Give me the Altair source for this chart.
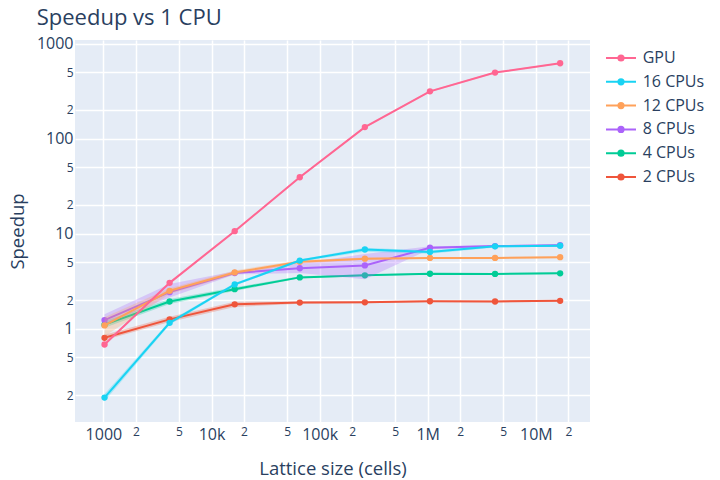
import altair as alt
import pandas as pd

# ---------------- data ----------------
sizes = [1024, 4096, 16384, 65536, 262144, 1048576, 4194304, 16777216]

gpu = [0.68, 3.03, 10.6, 39.2, 132, 314, 495, 620]
gpu_lo = [0.66, 2.95, 10.3, 38.3, 129, 308, 486, 609]
gpu_hi = [0.70, 3.10, 10.9, 40.1, 135, 320, 504, 631]

cpu16 = [0.188, 1.15, 2.92, 5.2, 6.8, 6.4, 7.35, 7.45]
cpu16_lo = [0.172, 1.10, 2.82, 5.05, 6.45, 6.15, 7.15, 7.25]
cpu16_hi = [0.205, 1.20, 3.02, 5.35, 7.10, 6.65, 7.55, 7.65]

cpu12 = [1.08, 2.5, 3.9, 5.05, 5.45, 5.55, 5.55, 5.65]
cpu12_lo = [0.83, 2.32, 3.70, 4.85, 5.30, 5.45, 5.45, 5.55]
cpu12_hi = [1.32, 2.66, 4.10, 5.25, 5.60, 5.65, 5.65, 5.75]

cpu8 = [1.23, 2.42, 3.85, 4.32, 4.62, 7.1, 7.38, 7.55]
cpu8_lo = [1.10, 2.12, 3.72, 3.85, 3.30, 6.85, 7.20, 7.35]
cpu8_hi = [1.42, 2.95, 4.02, 4.85, 6.10, 7.35, 7.56, 7.75]

cpu4 = [1.10, 1.93, 2.6, 3.46, 3.64, 3.78, 3.76, 3.82]
cpu4_lo = [1.02, 1.82, 2.48, 3.38, 3.56, 3.71, 3.69, 3.75]
cpu4_hi = [1.20, 2.05, 2.72, 3.55, 3.72, 3.85, 3.83, 3.89]

cpu2 = [0.80, 1.25, 1.80, 1.88, 1.89, 1.94, 1.93, 1.96]
cpu2_lo = [0.76, 1.17, 1.69, 1.83, 1.85, 1.90, 1.89, 1.92]
cpu2_hi = [0.86, 1.33, 1.92, 1.93, 1.93, 1.98, 1.97, 2.00]

series_names = ["GPU", "16 CPUs", "12 CPUs", "8 CPUs", "4 CPUs", "2 CPUs"]
series_colors = ["#FF6692", "#19D3F3", "#FFA15A", "#AB63FA", "#00CC96", "#EF553B"]
series_data = {
    "GPU": (gpu, gpu_lo, gpu_hi),
    "16 CPUs": (cpu16, cpu16_lo, cpu16_hi),
    "12 CPUs": (cpu12, cpu12_lo, cpu12_hi),
    "8 CPUs": (cpu8, cpu8_lo, cpu8_hi),
    "4 CPUs": (cpu4, cpu4_lo, cpu4_hi),
    "2 CPUs": (cpu2, cpu2_lo, cpu2_hi),
}
draw_order = ["2 CPUs", "4 CPUs", "8 CPUs", "12 CPUs", "16 CPUs", "GPU"]

x_ticks = [1000, 2000, 5000, 10000, 20000, 50000, 100000, 200000, 500000,
           1000000, 2000000, 5000000, 10000000, 20000000]
x_tick_labels = ["1000", "2", "5", "10k", "2", "5", "100k", "2", "5",
                 "1M", "2", "5", "10M", "2"]
x_major = [1000, 10000, 100000, 1000000, 10000000]

y_ticks = [0.2, 0.5, 1, 2, 5, 10, 20, 50, 100, 200, 500, 1000]
y_tick_labels = ["2", "5", "1", "2", "5", "10", "2", "5", "100", "2", "5", "1000"]
y_major = [1, 10, 100, 1000]

rows = []
for name in series_names:
    v, lo, hi = series_data[name]
    for s, a, b, c in zip(sizes, v, lo, hi):
        rows.append({"size": s, "speedup": a, "lo": b, "hi": c, "series": name})
df = pd.DataFrame(rows)

# ---------------- styling helpers ----------------
FONT = "Open Sans"
TXT = "#2a3f5f"


def label_expr(vals, labels):
    expr = "''"
    for v, l in reversed(list(zip(vals, labels))):
        expr = f"(abs(datum.value - {v}) < {v} * 1e-6) ? '{l}' : ({expr})"
    return expr


def major_test(vals):
    parts = [f"abs(datum.value - {v}) < {v} * 1e-6" for v in vals]
    return " || ".join(parts)


x_scale = alt.Scale(type="log", domain=[546, 31.7e6], nice=False)
y_scale = alt.Scale(type="log", domain=[0.104, 1090], nice=False)

x_axis = alt.Axis(
    values=x_ticks,
    labelExpr=label_expr(x_ticks, x_tick_labels),
    labelFontSize={"condition": {"test": major_test(x_major), "value": 16}, "value": 12},
    labelFlush=False,
    labelOverlap=False,
    labelPadding=4,
    title="Lattice size (cells)",
    titleX=257.5,
    titleY=52,
    titleBaseline="alphabetic",
    titleAlign="center",
)
y_axis = alt.Axis(
    values=y_ticks,
    labelExpr=label_expr(y_ticks, y_tick_labels),
    labelFontSize={"condition": {"test": major_test(y_major), "value": 16}, "value": 12},
    labelFlush=False,
    labelOverlap=False,
    labelPadding=2,
    title="Speedup",
    titleX=-51.5,
    titleY=191,
    titleAngle=270,
    titleBaseline="alphabetic",
    titleAlign="center",
)

color_enc = alt.Color(
    "series:N",
    scale=alt.Scale(domain=series_names, range=series_colors),
    title=None,
)

layers = []
for name in draw_order:
    base = alt.Chart(df).transform_filter(alt.datum.series == name)
    band = base.mark_area(opacity=0.28, strokeWidth=0).encode(
        x=alt.X("size:Q", scale=x_scale, axis=x_axis),
        y=alt.Y("lo:Q", scale=y_scale, axis=y_axis),
        y2="hi:Q",
        color=color_enc,
    )
    line = base.mark_line(strokeWidth=2).encode(
        x=alt.X("size:Q", scale=x_scale, axis=x_axis),
        y=alt.Y("speedup:Q", scale=y_scale, axis=y_axis),
        color=color_enc,
    )
    pts = base.mark_point(filled=True, size=40, opacity=1).encode(
        x=alt.X("size:Q", scale=x_scale, axis=x_axis),
        y=alt.Y("speedup:Q", scale=y_scale, axis=y_axis),
        color=color_enc,
    )
    layers += [band, line, pts]

legend_symbol = ("M-1.5,0L1.5,0M-0.26,0A0.26,0.26,0,1,0,0.26,0"
                 "A0.26,0.26,0,1,0,-0.26,0Z")

chart = (
    alt.layer(*layers)
    .properties(
        width=515,
        height=382,
        autosize=alt.AutoSizeParams(type="none"),
        padding={"left": 67, "top": 32, "right": 122, "bottom": 58},
        title=alt.TitleParams(
            "Speedup vs 1 CPU",
            anchor="start",
            frame="group",
            font=FONT,
            fontSize=22,
            fontWeight="normal",
            color=TXT,
            baseline="alphabetic",
            offset=17,
            dx=-38.3,
            dy=28,
        ),
    )
    .configure(background="white")
    .configure_view(fill="#E5ECF6", strokeWidth=0)
    .configure_axis(
        domain=False,
        ticks=False,
        grid=True,
        gridColor="white",
        gridWidth=1.5,
        labelFont=FONT,
        labelColor=TXT,
        titleFont=FONT,
        titleColor=TXT,
        titleFontSize=18.5,
        titleFontWeight="normal",
    )
    .configure_legend(
        orient="none",
        legendX=535,
        legendY=7,
        padding=0,
        symbolType=legend_symbol,
        symbolSize=400,
        symbolStrokeWidth=2,
        symbolOpacity=1,
        labelFont=FONT,
        labelFontSize=16,
        labelColor=TXT,
        labelOffset=10.7,
        rowPadding=4.8,
    )
)

chart.save("out.html", embed_options={"renderer": "svg", "actions": False})
